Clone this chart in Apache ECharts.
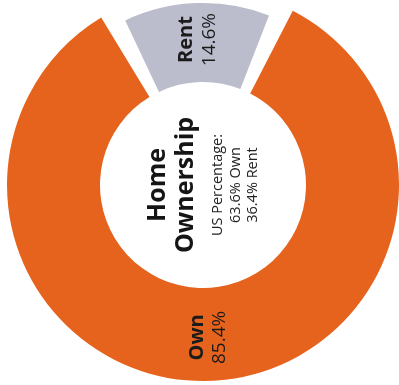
<!DOCTYPE html>
<html>
<head>
<meta charset="utf-8">
<script src="https://cdn.jsdelivr.net/npm/echarts@6/dist/echarts.min.js"></script>
<style>
  html, body { margin: 0; padding: 0; background: #ffffff; }
  #chart { width: 399px; height: 385px; }
</style>
</head>
<body>
<div id="chart"></div>
<script>
// Housing tenure shares
const categories = ['Rent', 'Own'];
const shares = [14.6, 85.4];

// Text in the hole of the donut
const centerTitle = ['Home', 'Ownership'];
const centerNotes = ['US Percentage:', '63.6% Own', '36.4% Rent'];

// Per-category ring look
const ringLook = {
  Rent: { color: '#BBBCCC', outer: 182 },
  Own:  { color: '#E6631E', outer: 196 }
};

const FONT = '"Open Sans", "Noto Sans", sans-serif';
const INNER = 103;
const CENTER = [203, 185];
const START = 118.3;   // Rent sits just left of twelve o'clock
const GAP = 6;

const labelRich = {
  name: { fontFamily: FONT, fontWeight: 'bold', fontSize: 20, lineHeight: 23, color: '#1b1b1b' },
  val:  { fontFamily: FONT, fontWeight: 'normal', fontSize: 19, lineHeight: 23, color: '#1b1b1b' }
};

// One ring per category so each can have its own outer radius
const ringSeries = categories.map(function (cat) {
  return {
    type: 'pie',
    name: cat,
    center: CENTER,
    radius: [INNER, ringLook[cat].outer],
    startAngle: START,
    padAngle: GAP,
    clockwise: true,
    silent: true,
    animation: false,
    label: {
      show: true,
      position: 'inside',
      rotate: 90,
      formatter: '{name|{b}}\n{val|{c}%}',
      rich: labelRich
    },
    labelLine: { show: false },
    data: categories.map(function (c, i) {
      const mine = c === cat;
      return {
        name: c,
        value: shares[i],
        itemStyle: { color: mine ? ringLook[c].color : 'rgba(0,0,0,0)' },
        label: { show: mine }
      };
    })
  };
});

const centerText =
  centerTitle.map(function (t) { return '{title|' + t + '}'; }).join('\n') +
  '\n{gap| }\n' +
  centerNotes.map(function (t) { return '{note|' + t + '}'; }).join('\n');

const centerSeries = {
  type: 'pie',
  center: CENTER,
  radius: [0, INNER - 4],
  silent: true,
  animation: false,
  itemStyle: { color: 'rgba(0,0,0,0)' },
  label: {
    show: true,
    position: 'center',
    rotate: 90,
    formatter: centerText,
    rich: {
      title: { fontFamily: FONT, fontWeight: 'bold', fontSize: 25, lineHeight: 28, color: '#151515' },
      gap:   { fontSize: 1, lineHeight: 9 },
      note:  { fontFamily: FONT, fontSize: 14.5, lineHeight: 17.5, color: '#222222' }
    }
  },
  labelLine: { show: false },
  data: [{ name: centerTitle.join(' '), value: 1 }]
};

const chart = echarts.init(document.getElementById('chart'), null, { renderer: 'canvas' });
chart.setOption({
  backgroundColor: '#ffffff',
  series: ringSeries.concat([centerSeries])
});
</script>
</body>
</html>
